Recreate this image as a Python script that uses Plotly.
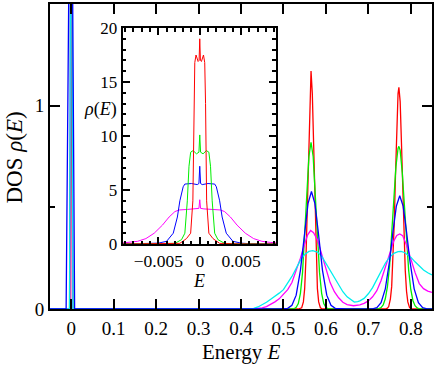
import plotly.graph_objects as go

# ---------------- main panel data (Energy E, DOS rho) ----------------
red_E = [-0.05, -0.003, -0.0012, 0.0, 0.0012, 0.003,
         0.535, 0.540, 0.543, 0.547, 0.550, 0.553, 0.556, 0.559, 0.562, 0.565, 0.568, 0.571, 0.574, 0.577, 0.580, 0.583, 0.587, 0.590, 0.595,
         0.740, 0.745, 0.748, 0.752, 0.755, 0.758, 0.761, 0.764, 0.767, 0.770, 0.772, 0.775, 0.778, 0.781, 0.784, 0.787, 0.790, 0.793, 0.797, 0.800, 0.805, 0.85]
red_rho = [0, 0, 1.0, 17.0, 1.0, 0,
           0, 0.002, 0.006, 0.035, 0.10, 0.25, 0.49, 0.79, 1.06, 1.17, 1.06, 0.79, 0.49, 0.25, 0.10, 0.035, 0.006, 0.002, 0,
           0, 0.004, 0.012, 0.05, 0.11, 0.23, 0.42, 0.66, 0.89, 1.06, 1.09, 1.02, 0.82, 0.58, 0.35, 0.19, 0.087, 0.035, 0.008, 0.002, 0, 0]

green_E = [-0.05, -0.004, -0.0018, 0.0, 0.0018, 0.004,
           0.525, 0.530, 0.535, 0.540, 0.545, 0.550, 0.555, 0.560, 0.565, 0.570, 0.575, 0.580, 0.585, 0.590, 0.595, 0.600, 0.605,
           0.725, 0.730, 0.735, 0.740, 0.745, 0.750, 0.755, 0.760, 0.765, 0.770, 0.772, 0.775, 0.780, 0.785, 0.790, 0.795, 0.800, 0.805, 0.810, 0.815, 0.820, 0.85]
green_rho = [0, 0, 1.0, 9.0, 1.0, 0,
             0.001, 0.008, 0.027, 0.077, 0.18, 0.35, 0.56, 0.75, 0.82, 0.75, 0.56, 0.35, 0.18, 0.077, 0.027, 0.008, 0.001,
             0.002, 0.007, 0.020, 0.05, 0.11, 0.21, 0.37, 0.54, 0.70, 0.79, 0.80, 0.78, 0.67, 0.51, 0.33, 0.19, 0.096, 0.042, 0.016, 0.005, 0.001, 0]

blue_E = [-0.05, -0.012, -0.004, 0.0, 0.002, 0.008,
          0.49, 0.50, 0.51, 0.52, 0.53, 0.54, 0.55, 0.558, 0.566, 0.574, 0.582, 0.592, 0.602, 0.612, 0.622, 0.632, 0.65,
          0.70, 0.71, 0.72, 0.73, 0.74, 0.75, 0.758, 0.766, 0.774, 0.782, 0.790, 0.798, 0.808, 0.818, 0.828, 0.838, 0.85]
blue_rho = [0, 0, 2.0, 5.6, 2.0, 0,
            0, 0.0004, 0.003, 0.018, 0.068, 0.19, 0.38, 0.52, 0.578, 0.52, 0.38, 0.19, 0.068, 0.018, 0.003, 0.001, 0,
            0, 0.001, 0.007, 0.031, 0.099, 0.236, 0.38, 0.506, 0.557, 0.506, 0.38, 0.236, 0.099, 0.031, 0.007, 0.001, 0.0]

magenta_E = [-0.05, -0.003, 0.0, 0.003,
             0.43, 0.44, 0.45, 0.46, 0.47, 0.48, 0.49, 0.50, 0.51, 0.52, 0.53, 0.54, 0.55, 0.557, 0.564, 0.571,
             0.58, 0.59, 0.60, 0.61, 0.62, 0.63, 0.64, 0.65, 0.665, 0.68, 0.69, 0.70, 0.71, 0.72, 0.73, 0.74, 0.75, 0.76,
             0.767, 0.774, 0.781, 0.79, 0.80, 0.81, 0.82, 0.83, 0.84, 0.85]
magenta_rho = [0, 0, 4.0, 0,
               0, 0.002, 0.006, 0.012, 0.022, 0.035, 0.05, 0.07, 0.095, 0.13, 0.185, 0.25, 0.32, 0.365, 0.386, 0.375,
               0.34, 0.27, 0.19, 0.13, 0.085, 0.055, 0.033, 0.022, 0.016, 0.02, 0.028, 0.04, 0.06, 0.09, 0.14, 0.2, 0.27, 0.335,
               0.362, 0.369, 0.36, 0.315, 0.245, 0.18, 0.125, 0.1, 0.088, 0.082]

cyan_E = [-0.05, -0.004, 0.0, 0.004,
          0.42, 0.43, 0.44, 0.45, 0.46, 0.47, 0.48, 0.49, 0.50, 0.51, 0.52, 0.53, 0.54, 0.55, 0.56, 0.569,
          0.58, 0.59, 0.60, 0.61, 0.62, 0.63, 0.64, 0.65, 0.66, 0.667, 0.675,
          0.68, 0.69, 0.70, 0.71, 0.72, 0.73, 0.74, 0.75, 0.76, 0.77, 0.777, 0.785,
          0.79, 0.80, 0.81, 0.82, 0.83, 0.84, 0.85]
cyan_rho = [0, 0, 3.0, 0,
            0, 0.003, 0.01, 0.02, 0.033, 0.048, 0.062, 0.078, 0.095, 0.125, 0.16, 0.2, 0.24, 0.268, 0.283, 0.287,
            0.28, 0.26, 0.225, 0.185, 0.15, 0.115, 0.085, 0.06, 0.042, 0.034, 0.036,
            0.04, 0.052, 0.075, 0.105, 0.145, 0.185, 0.225, 0.255, 0.274, 0.282, 0.283, 0.278,
            0.27, 0.255, 0.232, 0.21, 0.192, 0.178, 0.167]

# ---------------- inset data (zoom around E = 0) ----------------
ired_E = [-0.0093, -0.006, -0.004, -0.003, -0.0024, -0.0016, -0.0011, -0.00083, -0.0007, -0.0006, -0.00045, -0.0002, -0.00008,
          0.0, 0.00008, 0.0002, 0.00045, 0.0006, 0.0007, 0.00083, 0.0011, 0.0016, 0.0024, 0.003, 0.004, 0.006, 0.0093]
ired_rho = [0.0, 0.0, 0.02, 0.03, 0.06, 0.5, 1.0, 4.0, 13.0, 16.8, 17.5, 16.9, 17.0,
            19.0, 17.0, 16.9, 17.5, 16.8, 13.0, 4.0, 1.0, 0.5, 0.06, 0.03, 0.02, 0.0, 0.0]

igreen_E = [-0.0093, -0.006, -0.004, -0.003, -0.0022, -0.0018, -0.0015, -0.0013, -0.0011, -0.0008, -0.0004, -0.0001,
            0.0, 0.0001, 0.0004, 0.0008, 0.0011, 0.0013, 0.0015, 0.0018, 0.0022, 0.003, 0.004, 0.006, 0.0093]
igreen_rho = [0.0, 0.0, 0.02, 0.06, 0.4, 1.0, 4.0, 7.2, 8.5, 8.65, 8.35, 8.5,
              10.1, 8.5, 8.35, 8.65, 8.5, 7.2, 4.0, 1.0, 0.4, 0.06, 0.02, 0.0, 0.0]

iblue_E = [-0.0093, -0.006, -0.005, -0.004, -0.0032, -0.0027, -0.0024, -0.002, -0.0018, -0.001, -0.0003, -0.0001,
           0.0, 0.0001, 0.0003, 0.001, 0.0018, 0.002, 0.0024, 0.0027, 0.0032, 0.004, 0.005, 0.006, 0.0093]
iblue_rho = [0.0, 0.03, 0.08, 0.25, 1.0, 2.5, 4.0, 5.3, 5.55, 5.6, 5.5, 5.6,
             7.2, 5.6, 5.5, 5.6, 5.55, 5.3, 4.0, 2.5, 1.0, 0.25, 0.08, 0.03, 0.0]

imagenta_E = [-0.0093, -0.0085, -0.0075, -0.0065, -0.0055, -0.0045, -0.0037, -0.003, -0.0025, -0.0015, -0.0005, -0.0001,
              0.0, 0.0001, 0.0005, 0.0015, 0.0025, 0.003, 0.0037, 0.0045, 0.0055, 0.0065, 0.0075, 0.0085, 0.0093]
imagenta_rho = [0.1, 0.15, 0.25, 0.5, 1.0, 1.75, 2.5, 3.0, 3.15, 3.2, 3.25, 3.3,
                4.1, 3.3, 3.25, 3.2, 3.15, 3.0, 2.5, 1.75, 1.0, 0.5, 0.25, 0.15, 0.1]

# ---------------- tick labels ----------------
main_xtick_vals = [0, 0.1, 0.2, 0.3, 0.4, 0.5, 0.6, 0.7, 0.8]
main_xtick_text = ["0", "0.1", "0.2", "0.3", "0.4", "0.5", "0.6", "0.7", "0.8"]
main_ytick_vals = [0, 1]
main_ytick_text = ["0", "1"]
inset_xtick_vals = [-0.005, 0, 0.005]
inset_xtick_text = ["\u22120.005", "0", "0.005"]
inset_ytick_vals = [0, 5, 10, 15, 20]
inset_ytick_text = ["0", "5", "10", "15", "20"]

RED, GREEN, BLUE, MAGENTA, CYAN = "#ff0000", "#00ee00", "#0000ff", "#ff00ff", "#00eeee"
FONT = "Liberation Serif"

fig = go.Figure()

main_series = [(red_E, red_rho, RED), (green_E, green_rho, GREEN), (magenta_E, magenta_rho, MAGENTA),
               (cyan_E, cyan_rho, CYAN), (blue_E, blue_rho, BLUE)]
for xs, ys, col in main_series:
    fig.add_trace(go.Scatter(x=xs, y=ys, mode="lines", line=dict(color=col, width=1.3),
                             xaxis="x", yaxis="y", showlegend=False, hoverinfo="skip"))

inset_series = [(imagenta_E, imagenta_rho, MAGENTA), (iblue_E, iblue_rho, BLUE),
                (igreen_E, igreen_rho, GREEN), (ired_E, ired_rho, RED)]
for xs, ys, col in inset_series:
    fig.add_trace(go.Scatter(x=xs, y=ys, mode="lines", line=dict(color=col, width=1.0),
                             xaxis="x2", yaxis="y2", showlegend=False, hoverinfo="skip"))

axis_common = dict(showline=True, linecolor="black", mirror="ticks", ticks="inside",
                   tickcolor="black", showgrid=False, zeroline=False, automargin=False)

fig.update_layout(
    width=436, height=366,
    margin=dict(l=50, r=4, t=4, b=57),
    paper_bgcolor="white", plot_bgcolor="white",
    showlegend=False,
    font=dict(family=FONT, size=19, color="black"),
    xaxis=dict(range=[-0.05, 0.85], tickmode="array", tickvals=main_xtick_vals, ticktext=main_xtick_text,
               ticklen=10, tickwidth=2, linewidth=2, tickfont=dict(size=19, family=FONT),
               ticklabelstandoff=1, **axis_common),
    yaxis=dict(range=[0, 1.5], tickmode="array", tickvals=main_ytick_vals, ticktext=main_ytick_text,
               ticklen=10, tickwidth=2, linewidth=2, tickfont=dict(size=19, family=FONT),
               minor=dict(tickmode="array", tickvals=[0.5], ticklen=5, tickwidth=2, ticks="inside", tickcolor="black"),
               **axis_common),
    xaxis2=dict(domain=[0.1903, 0.5916], anchor="y2", range=[-0.0093, 0.0092],
                tickmode="array", tickvals=inset_xtick_vals, ticktext=inset_xtick_text,
                ticklen=7, tickwidth=1.5, linewidth=2, tickfont=dict(size=17.5, family=FONT),
                minor=dict(tickmode="linear", tick0=0, dtick=0.001, ticklen=3.5, tickwidth=1.5, ticks="inside", tickcolor="black"),
                **axis_common),
    yaxis2=dict(domain=[0.2131, 0.9213], anchor="x2", range=[0, 20],
                tickmode="array", tickvals=inset_ytick_vals, ticktext=inset_ytick_text,
                ticklen=7, tickwidth=1.5, linewidth=2, tickfont=dict(size=17, family=FONT),
                minor=dict(tickmode="linear", tick0=0, dtick=1, ticklen=3.5, tickwidth=1.5, ticks="inside", tickcolor="black"),
                **axis_common),
    annotations=[
        dict(text="DOS <i>ρ</i>(<i>E</i>)", xref="paper", yref="paper", x=-0.094, y=0.497,
             xanchor="center", yanchor="middle", textangle=-90, showarrow=False, font=dict(size=23, family=FONT)),
        dict(text="Energy <i>E</i>", xref="paper", yref="paper", x=0.5, y=-0.142,
             xanchor="center", yanchor="middle", showarrow=False, font=dict(size=21, family=FONT)),
        dict(text="<i>ρ</i>(<i>E</i>)", xref="paper", yref="paper", x=0.1309, y=0.6525,
             xanchor="center", yanchor="middle", showarrow=False, font=dict(size=18, family=FONT)),
        dict(text="<i>E</i>", xref="paper", yref="paper", x=0.390, y=0.092,
             xanchor="center", yanchor="middle", showarrow=False, font=dict(size=18, family=FONT)),
    ],
)

fig.write_html("out.html", config={"displayModeBar": False},
               post_script="document.body.style.margin='0';document.body.style.overflow='hidden';")
